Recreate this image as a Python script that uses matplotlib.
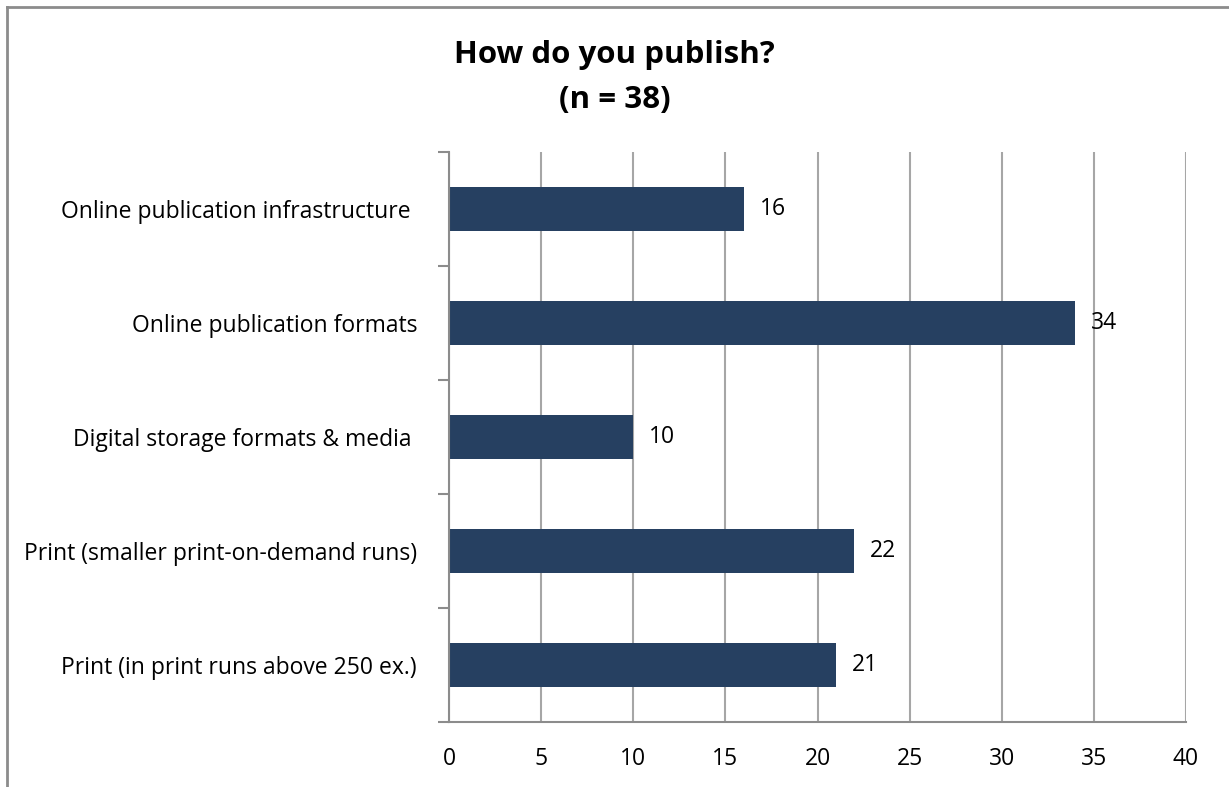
import matplotlib
matplotlib.use("Agg")
import matplotlib.pyplot as plt
from matplotlib.lines import Line2D

plt.rcParams['font.family'] = ['Open Sans', 'DejaVu Sans']

categories = ['Print (in print runs above 250 ex.)',
              'Print (smaller print-on-demand runs)',
              'Digital storage formats & media ',
              'Online publication formats',
              'Online publication infrastructure ']
counts = [21, 22, 10, 34, 16]
xticks = [0, 5, 10, 15, 20, 25, 30, 35, 40]

bar_color = '#264061'
grid_color = '#a6a6a6'
axis_color = '#8c8c8c'

fig = plt.figure(figsize=(12.29, 7.87), dpi=100)
ax = fig.add_axes([449/1229, 1 - 722/787, (1186 - 449)/1229, (722 - 152)/787])

ypos = list(range(len(categories)))
ax.barh(ypos, counts, height=0.39, color=bar_color, zorder=3)
for y, v in zip(ypos, counts):
    ax.text(v + 0.85, y, str(v), va='center', ha='left', fontsize=16.5, zorder=4)

ax.set_xlim(0, 40)
ax.set_ylim(-0.5, len(categories) - 0.5)
ax.set_xticks(xticks)
ax.set_xticklabels([str(t) for t in xticks], fontsize=16.5)
ax.set_yticks(ypos)
ax.set_yticklabels(categories, fontsize=16.5)
ax.tick_params(axis='y', length=0, pad=23)
ax.tick_params(axis='x', length=0, pad=18)

# category boundary tick marks on the left axis
ax.set_yticks([i - 0.5 for i in range(len(categories) + 1)], minor=True)
ax.tick_params(axis='y', which='minor', length=8, width=1.5, color=axis_color, direction='out')
ax.set_xticks(xticks, minor=True)
ax.tick_params(axis='x', which='minor', length=8, width=1.5, color=axis_color, direction='out')

ax.grid(axis='x', color=grid_color, linewidth=1.5, zorder=0)
for s in ['top', 'right']:
    ax.spines[s].set_visible(False)
for s in ['left', 'bottom']:
    ax.spines[s].set_color(axis_color)
    ax.spines[s].set_linewidth(1.5)
    ax.spines[s].set_zorder(5)

fig.text(0.5, 1 - 55/787, 'How do you publish?', ha='center', va='center',
         fontsize=22.5, fontweight='bold')
fig.text(0.5, 1 - 100/787, '(n = 38)', ha='center', va='center',
         fontsize=22.5, fontweight='bold')

# outer chart frame (right/bottom edges fall outside the image)
fig.add_artist(Line2D([7/1229, 1], [1 - 7/787, 1 - 7/787], color='#8c8c8c', linewidth=2,
                      transform=fig.transFigure))
fig.add_artist(Line2D([7/1229, 7/1229], [0, 1 - 7/787], color='#8c8c8c', linewidth=2,
                      transform=fig.transFigure))

fig.savefig('out.png', dpi=100, facecolor='white')
